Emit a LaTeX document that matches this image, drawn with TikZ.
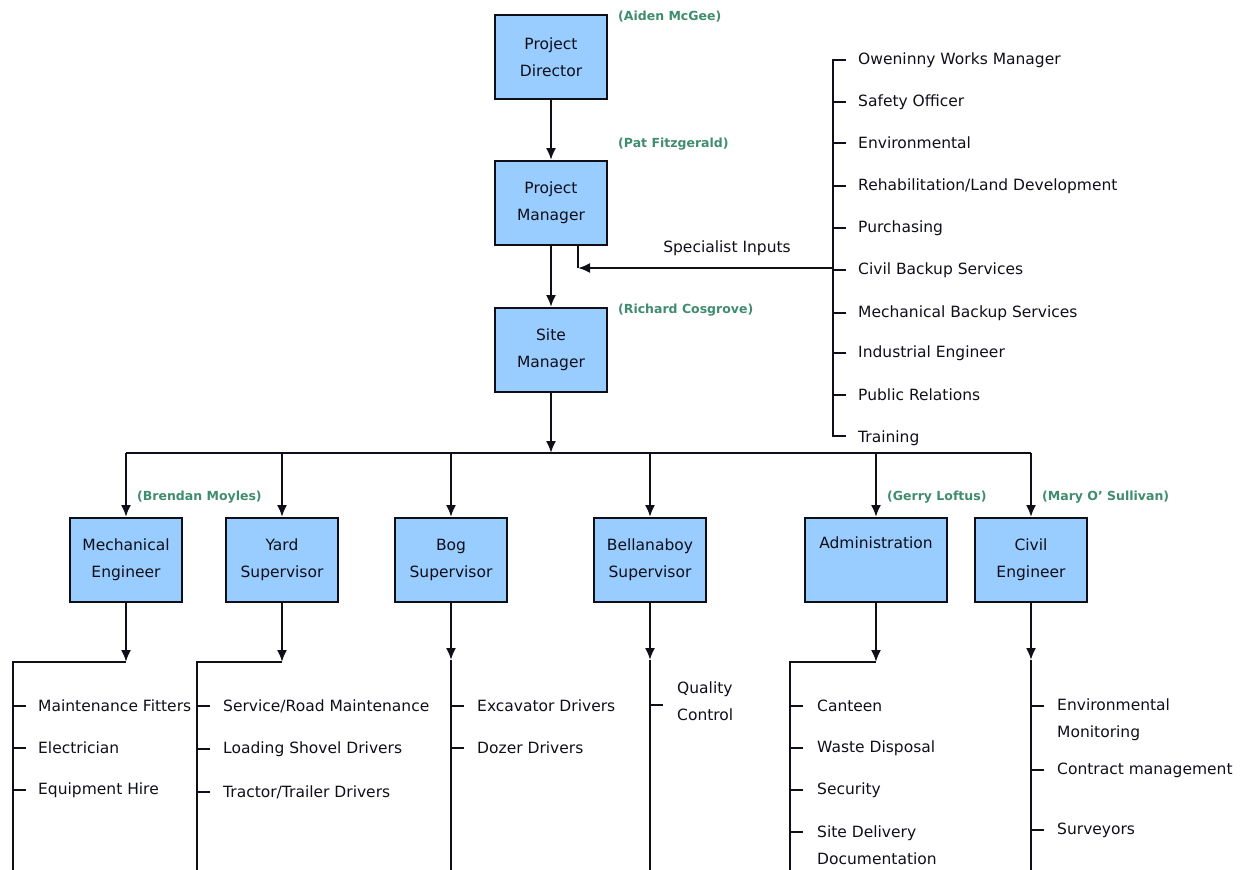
\documentclass[tikz,border=0pt]{standalone}
\usepackage{fontspec}
\setmainfont{DejaVu Sans}
\usetikzlibrary{arrows.meta}
\definecolor{boxblue}{RGB}{153,204,255}
\definecolor{namegreen}{RGB}{64,140,110}
\definecolor{inkc}{RGB}{15,15,25}
\begin{document}
\begin{tikzpicture}[x=1pt,y=-1pt,
  font=\fontsize{15.5}{27}\selectfont,
  role/.style={draw=inkc,line width=2pt,fill=boxblue,inner sep=0pt,minimum width=112pt,minimum height=84pt,align=center,text=inkc},
  person/.style={anchor=west,inner sep=0pt,text=namegreen,font=\fontsize{12.5}{14}\selectfont\bfseries},
  item/.style={anchor=west,inner sep=0pt,align=left,text=inkc},
  conn/.style={draw=inkc,line width=2pt},
  arr/.style={conn,-{Latex[length=12pt,width=10pt]}},
  tick/.style={conn}
]
\useasboundingbox (0,0) rectangle (1253,870);

% top chain
\node[role] (pd) at (551,57) {Project\\Director};
\node[role] (pm) at (551,203) {Project\\Manager};
\node[role] (sm) at (551,350) {Site\\Manager};
\node[person] (n1) at (618,17) {(Aiden McGee)};
\node[person] (n2) at (618,144) {(Pat Fitzgerald)};
\node[person] (n3) at (618,310) {(Richard Cosgrove)};
\draw[arr] (pd) -- (pm);
\draw[arr] (pm) -- (sm);

% specialist inputs
\coordinate (sj) at (578,268);
\coordinate (bt) at (833,60);
\coordinate (bb) at (833,436);
\coordinate (bs) at (833,268);
\draw[conn] (pm.south -| sj) -- (sj);
\draw[arr] (bs) -- (sj);
\node[inner sep=0pt,text=inkc] (si) at (727,248) {Specialist Inputs};
\draw[conn] (846,60) -- (bt) -- (bb) -- (846,436);
\foreach \y/\t [count=\i] in {60/Oweninny Works Manager,102/Safety Officer,143/Environmental,186/Rehabilitation\slash Land Development,228/Purchasing,270/Civil Backup Services,313/Mechanical Backup Services,353/Industrial Engineer,395/Public Relations,438/Training}{
  \node[item] (r\i) at (858,\y) {\t};
}
\foreach \y in {102,143,186,228,270,313,353,395}{\draw[tick] (833,\y) -- (846,\y);}

% bus
\coordinate (bus) at (551,453);
\draw[arr] (sm) -- (bus);
\draw[conn] (126,453) -- (1031,453);

% second level
\node[role] (me) at (126,560) {Mechanical\\Engineer};
\node[role] (ys) at (282,560) {Yard\\Supervisor};
\node[role] (bg) at (451,560) {Bog\\Supervisor};
\node[role] (bl) at (650,560) {Bellanaboy\\Supervisor};
\node[role,minimum width=142pt] (ad) at (876,560) {Administration\\\strut};
\node[role] (ce) at (1031,560) {Civil\\Engineer};
\foreach \n in {me,ys,bg,bl,ad,ce}{\draw[arr] (bus -| \n) -- (\n);}
\node[person] (n4) at (137,497) {(Brendan Moyles)};
\node[person] (n5) at (887,497) {(Gerry Loftus)};
\node[person] (n6) at (1042,497) {(Mary O' Sullivan)};

% Mechanical group
\coordinate (mj) at (126,662);
\draw[arr] (me) -- (mj);
\draw[conn] (mj) -- (13,662) -- (13,872);
\foreach \y/\t [count=\i] in {706/Maintenance Fitters,748/Electrician,790/Equipment Hire}{
  \draw[tick] (13,\y) -- (26,\y);
  \node[item] (m\i) at (38,\y) {\t};}

% Yard group
\coordinate (yj) at (282,662);
\draw[arr] (ys) -- (yj);
\draw[conn] (yj) -- (197,662) -- (197,872);
\foreach \y/\t [count=\i] in {706/Service\slash Road Maintenance,749/Loading Shovel Drivers,792/Tractor\slash Trailer Drivers}{
  \draw[tick] (197,\y) -- (210,\y);
  \node[item] (y\i) at (223,\y) {\t};}

% Bog group
\coordinate (gj) at (451,660);
\draw[arr] (bg) -- (gj);
\draw[conn] (gj) -- (451,872);
\foreach \y/\t [count=\i] in {706/Excavator Drivers,748/Dozer Drivers}{
  \draw[tick] (451,\y) -- (464,\y);
  \node[item] (g\i) at (477,\y) {\t};}

% Bellanaboy group
\coordinate (lj) at (650,660);
\draw[arr] (bl) -- (lj);
\draw[conn] (lj) -- (650,872);
\draw[tick] (650,705) -- (663,705);
\node[item] (l1) at (677,701) {Quality\\Control};

% Administration group
\coordinate (aj) at (876,662);
\draw[arr] (ad) -- (aj);
\draw[conn] (aj) -- (790,662) -- (790,872);
\foreach \y/\t [count=\i] in {706/Canteen,748/Waste Disposal,790/Security}{
  \draw[tick] (790,\y) -- (803,\y);
  \node[item] (a\i) at (817,\y) {\t};}
\draw[tick] (790,832) -- (803,832);
\node[item] (a4) at (817,845) {Site Delivery\\Documentation};

% Civil group
\coordinate (cj) at (1031,660);
\draw[arr] (ce) -- (cj);
\draw[conn] (cj) -- (1031,872);
\draw[tick] (1031,706) -- (1044,706);
\node[item] (c1) at (1057,720) {Environmental\\Monitoring};
\draw[tick] (1031,770) -- (1044,770);
\node[item] (c2) at (1057,770) {Contract management};
\draw[tick] (1031,830) -- (1044,830);
\node[item] (c3) at (1057,830) {Surveyors};
\end{tikzpicture}
\end{document}
